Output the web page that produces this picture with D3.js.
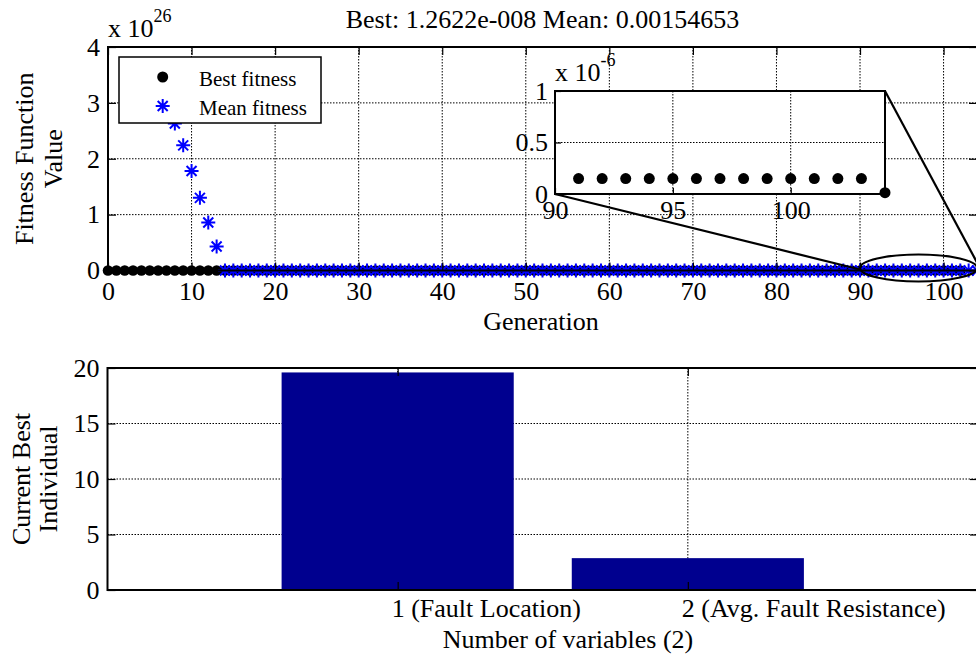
<!DOCTYPE html>
<html>
<head>
<meta charset="utf-8">
<script src="https://cdn.jsdelivr.net/npm/d3@7"></script>
<style>
  body { margin: 0; background: #fff; }
  svg text { font-family: "Liberation Serif", "Times New Roman", serif !important; fill: #000; }
</style>
</head>
<body>
<div id="chart"></div>
<script>
// ---- data ----
var generations = d3.range(0, 105);
// mean fitness, units of 1e26 (values above 4 fall outside the axes)
var meanFitness = [
  6.2, 5.8, 5.3, 4.9, 4.5, 4.1, 3.6, 3.1, 2.63, 2.24, 1.78, 1.30, 0.86, 0.43,
  0, 0, 0, 0, 0, 0, 0, 0, 0, 0, 0, 0, 0, 0, 0, 0, 0, 0, 0, 0, 0, 0, 0, 0, 0, 0,
  0, 0, 0, 0, 0, 0, 0, 0, 0, 0, 0, 0, 0, 0, 0, 0, 0, 0, 0, 0, 0, 0, 0, 0, 0, 0,
  0, 0, 0, 0, 0, 0, 0, 0, 0, 0, 0, 0, 0, 0, 0, 0, 0, 0, 0, 0, 0, 0, 0, 0, 0, 0,
  0, 0, 0, 0, 0, 0, 0, 0, 0, 0, 0, 0, 0
];
// best fitness, units of 1e26
var bestFitness = [
  0, 0, 0, 0, 0, 0, 0, 0, 0, 0, 0, 0, 0, 0, 0, 0, 0, 0, 0, 0, 0, 0, 0, 0, 0, 0,
  0, 0, 0, 0, 0, 0, 0, 0, 0, 0, 0, 0, 0, 0, 0, 0, 0, 0, 0, 0, 0, 0, 0, 0, 0, 0,
  0, 0, 0, 0, 0, 0, 0, 0, 0, 0, 0, 0, 0, 0, 0, 0, 0, 0, 0, 0, 0, 0, 0, 0, 0, 0,
  0, 0, 0, 0, 0, 0, 0, 0, 0, 0, 0, 0, 0, 0, 0, 0, 0, 0, 0, 0, 0, 0, 0, 0, 0
];
// zoomed inset: best fitness, units of 1e-6
var insetGenerations = [90, 91, 92, 93, 94, 95, 96, 97, 98, 99, 100, 101, 102, 103, 104];
var insetBest = [2.4, 0.15, 0.15, 0.15, 0.15, 0.15, 0.15, 0.15, 0.15, 0.15, 0.15, 0.15, 0.15, 0.15, 0.0126];

var topXTicks = [0, 10, 20, 30, 40, 50, 60, 70, 80, 90, 100];
var topYTicks = [0, 1, 2, 3, 4];
var insetXTicks = [90, 95, 100];
var insetYTicks = [0, 0.5, 1];

var variables = [1, 2];
var variableLabels = ["1 (Fault Location)", "2 (Avg. Fault Resistance)"];
var bestIndividual = [19.6, 2.87];
var bottomYTicks = [0, 5, 10, 15, 20];

var titleText = "Best: 1.2622e-008 Mean: 0.00154653";

// ---- layout ----
var W = 976, H = 657;
var svg = d3.select("#chart").append("svg").attr("width", W).attr("height", H);

var upper = {l: 108, r: 977, t: 47, b: 270.5};
var lower = {l: 107.5, r: 978, t: 368, b: 590};
var tick = 8;
var fmt = d3.format("~g");
var serif = '"Liberation Serif", "Times New Roman", serif';

function dotted(g, x1, y1, x2, y2) {
  g.append("line")
    .attr("x1", x1).attr("y1", y1).attr("x2", x2).attr("y2", y2)
    .attr("stroke", "#000").attr("stroke-width", 1)
    .attr("stroke-dasharray", "1.5,1.5");
}

function styleAxis(a) {
  a.select(".domain").remove();
  a.attr("font-family", serif).attr("font-size", 26);
  a.selectAll("line").attr("stroke", "#000").attr("stroke-width", 1.2);
  a.selectAll("text").style("font-family", serif).style("font-size", "26px").attr("fill", "#000");
}

var starPath = "M-7,0H7M0,-7V7M-5,-5L5,5M-5,5L5,-5";

// ================= top plot =================
var x = d3.scaleLinear().domain([0, 104]).range([upper.l, upper.r]);
var y = d3.scaleLinear().domain([0, 4]).range([upper.b, upper.t]);

var gTop = svg.append("g");
topXTicks.slice(1).forEach(function (t) { dotted(gTop, x(t), upper.t, x(t), upper.b); });
topYTicks.slice(1, -1).forEach(function (t) { dotted(gTop, upper.l, y(t), upper.r, y(t)); });

function inTop(v) { return v >= 0 && v <= 4; }

gTop.append("g").selectAll("circle")
  .data(generations.filter(function (g) { return inTop(bestFitness[g]); }))
  .enter().append("circle")
  .attr("cx", function (g) { return x(g); })
  .attr("cy", function (g) { return y(bestFitness[g]); })
  .attr("r", 5.3).attr("fill", "#000");

gTop.append("g").selectAll("path")
  .data(generations.filter(function (g) { return inTop(meanFitness[g]); }))
  .enter().append("path")
  .attr("transform", function (g) { return "translate(" + x(g) + "," + y(meanFitness[g]) + ")"; })
  .attr("d", starPath)
  .attr("stroke", "#0000ff").attr("stroke-width", 2).attr("fill", "none");

// axes
var axB = gTop.append("g").attr("transform", "translate(0," + upper.b + ")")
  .call(d3.axisBottom(x).tickValues(topXTicks).tickSizeInner(-tick).tickSizeOuter(0).tickPadding(11).tickFormat(fmt));
var axL = gTop.append("g").attr("transform", "translate(" + upper.l + ",0)")
  .call(d3.axisLeft(y).tickValues(topYTicks).tickSizeInner(-tick).tickSizeOuter(0).tickPadding(8).tickFormat(fmt));
var axT = gTop.append("g").attr("transform", "translate(0," + upper.t + ")")
  .call(d3.axisTop(x).tickValues(topXTicks).tickSizeInner(-tick).tickSizeOuter(0).tickFormat(""));
var axR = gTop.append("g").attr("transform", "translate(" + upper.r + ",0)")
  .call(d3.axisRight(y).tickValues(topYTicks).tickSizeInner(-tick).tickSizeOuter(0).tickFormat(""));
[axB, axL, axT, axR].forEach(styleAxis);
gTop.append("rect").attr("x", upper.l).attr("y", upper.t)
  .attr("width", upper.r - upper.l).attr("height", upper.b - upper.t)
  .attr("fill", "none").attr("stroke", "#000").attr("stroke-width", 2);

// exponent label
var e1 = gTop.append("text").attr("x", upper.l).attr("y", 37).style("font-size", "26px");
e1.append("tspan").text("x 10");
e1.append("tspan").attr("dy", -15).style("font-size", "18px").text("26");

// title, labels
svg.append("text").attr("x", (upper.l + upper.r) / 2).attr("y", 28)
  .attr("text-anchor", "middle").style("font-size", "26px").text(titleText);
svg.append("text").attr("x", 541).attr("y", 330)
  .attr("text-anchor", "middle").style("font-size", "26px").text("Generation");
var yl = svg.append("text").attr("transform", "translate(33," + (upper.t + upper.b) / 2 + ") rotate(-90)")
  .attr("text-anchor", "middle").style("font-size", "26px");
yl.append("tspan").attr("x", 0).attr("y", 0).text("Fitness Function");
yl.append("tspan").attr("x", 0).attr("y", 29).text("Value");

// legend
var leg = svg.append("g");
leg.append("rect").attr("x", 119).attr("y", 57).attr("width", 202).attr("height", 66)
  .attr("fill", "#fff").attr("stroke", "#000").attr("stroke-width", 1.5);
leg.append("circle").attr("cx", 162.7).attr("cy", 77).attr("r", 5.5).attr("fill", "#000");
leg.append("path").attr("transform", "translate(162.7,106)").attr("d", starPath)
  .attr("stroke", "#0000ff").attr("stroke-width", 2).attr("fill", "none");
leg.append("text").attr("x", 199).attr("y", 86).style("font-size", "21px").text("Best fitness");
leg.append("text").attr("x", 199).attr("y", 115).style("font-size", "21px").text("Mean fitness");

// ================= zoom inset =================
var xi = d3.scaleLinear().domain([90, 104]).range([555, 885]);
var yi = d3.scaleLinear().domain([0, 1]).range([194, 91]);

var gIn = svg.append("g");
// ellipse + connecting lines
gIn.append("ellipse")
  .attr("cx", x(97)).attr("cy", y(0) - 2.5)
  .attr("rx", x(104) - x(97)).attr("ry", 13.5)
  .attr("fill", "none").attr("stroke", "#000").attr("stroke-width", 2.2);
gIn.append("line").attr("x1", xi(90)).attr("y1", yi(0)).attr("x2", x(90)).attr("y2", y(0) - 1)
  .attr("stroke", "#000").attr("stroke-width", 2.2);
gIn.append("line").attr("x1", xi(104)).attr("y1", yi(1)).attr("x2", x(104)).attr("y2", y(0) - 8)
  .attr("stroke", "#000").attr("stroke-width", 2.2);

gIn.append("rect").attr("x", xi(90)).attr("y", yi(1))
  .attr("width", xi(104) - xi(90)).attr("height", yi(0) - yi(1))
  .attr("fill", "#fff");
insetXTicks.slice(1).forEach(function (t) { dotted(gIn, xi(t), yi(1), xi(t), yi(0)); });
dotted(gIn, xi(90), yi(0.5), xi(104), yi(0.5));

var iB = gIn.append("g").attr("transform", "translate(0," + yi(0) + ")")
  .call(d3.axisBottom(xi).tickValues(insetXTicks).tickSizeInner(-6).tickSizeOuter(0).tickPadding(7).tickFormat(fmt));
var iL = gIn.append("g").attr("transform", "translate(" + xi(90) + ",0)")
  .call(d3.axisLeft(yi).tickValues(insetYTicks).tickSizeInner(-6).tickSizeOuter(0).tickPadding(7).tickFormat(fmt));
[iB, iL].forEach(styleAxis);
gIn.append("rect").attr("x", xi(90)).attr("y", yi(1))
  .attr("width", xi(104) - xi(90)).attr("height", yi(0) - yi(1))
  .attr("fill", "none").attr("stroke", "#000").attr("stroke-width", 2);

gIn.append("g").selectAll("circle")
  .data(insetGenerations.filter(function (g, i) { return insetBest[i] >= 0 && insetBest[i] <= 1; }))
  .enter().append("circle")
  .attr("cx", function (g) { return xi(g); })
  .attr("cy", function (g) { return yi(insetBest[insetGenerations.indexOf(g)]); })
  .attr("r", 5.5).attr("fill", "#000");

var e2 = gIn.append("text").attr("x", 555).attr("y", 81).style("font-size", "26px");
e2.append("tspan").text("x 10");
e2.append("tspan").attr("dy", -15).style("font-size", "18px").text("-6");

// ================= bottom plot =================
var xb = d3.scaleLinear().domain([0, 3]).range([lower.l, lower.r]);
var yb = d3.scaleLinear().domain([0, 20]).range([lower.b, lower.t]);
var gBot = svg.append("g");

variables.forEach(function (v) { dotted(gBot, xb(v), lower.t, xb(v), lower.b); });
bottomYTicks.slice(1, -1).forEach(function (t) { dotted(gBot, lower.l, yb(t), lower.r, yb(t)); });

gBot.append("g").selectAll("rect")
  .data(variables).enter().append("rect")
  .attr("x", function (v) { return xb(v - 0.4); })
  .attr("width", function (v) { return xb(v + 0.4) - xb(v - 0.4); })
  .attr("y", function (v, i) { return yb(bestIndividual[i]); })
  .attr("height", function (v, i) { return yb(0) - yb(bestIndividual[i]); })
  .attr("fill", "#00008f");

var bB = gBot.append("g").attr("transform", "translate(0," + lower.b + ")")
  .call(d3.axisBottom(xb).tickValues(variables).tickSizeInner(-tick).tickSizeOuter(0).tickFormat(""));
var bT = gBot.append("g").attr("transform", "translate(0," + lower.t + ")")
  .call(d3.axisTop(xb).tickValues(variables).tickSizeInner(-tick).tickSizeOuter(0).tickFormat(""));
var bL = gBot.append("g").attr("transform", "translate(" + lower.l + ",0)")
  .call(d3.axisLeft(yb).tickValues(bottomYTicks).tickSizeInner(-tick).tickSizeOuter(0).tickPadding(8).tickFormat(fmt));
var bR = gBot.append("g").attr("transform", "translate(" + lower.r + ",0)")
  .call(d3.axisRight(yb).tickValues(bottomYTicks).tickSizeInner(-tick).tickSizeOuter(0).tickFormat(""));
[bB, bT, bL, bR].forEach(styleAxis);
gBot.append("rect").attr("x", lower.l).attr("y", lower.t)
  .attr("width", lower.r - lower.l).attr("height", lower.b - lower.t)
  .attr("fill", "none").attr("stroke", "#000").attr("stroke-width", 2);

gBot.append("g").selectAll("text")
  .data(variables).enter().append("text")
  .attr("x", function (v) { return xb(v) - 6; })
  .attr("y", 617)
  .style("font-size", "26px")
  .text(function (v, i) { return variableLabels[i]; });

svg.append("text").attr("x", 568).attr("y", 648)
  .attr("text-anchor", "middle").style("font-size", "26px").text("Number of variables (2)");
var yl2 = svg.append("text").attr("transform", "translate(30," + (lower.t + lower.b) / 2 + ") rotate(-90)")
  .attr("text-anchor", "middle").style("font-size", "26px");
yl2.append("tspan").attr("x", 0).attr("y", 0).text("Current Best");
yl2.append("tspan").attr("x", 0).attr("y", 27).text("Individual");
</script>
</body>
</html>
